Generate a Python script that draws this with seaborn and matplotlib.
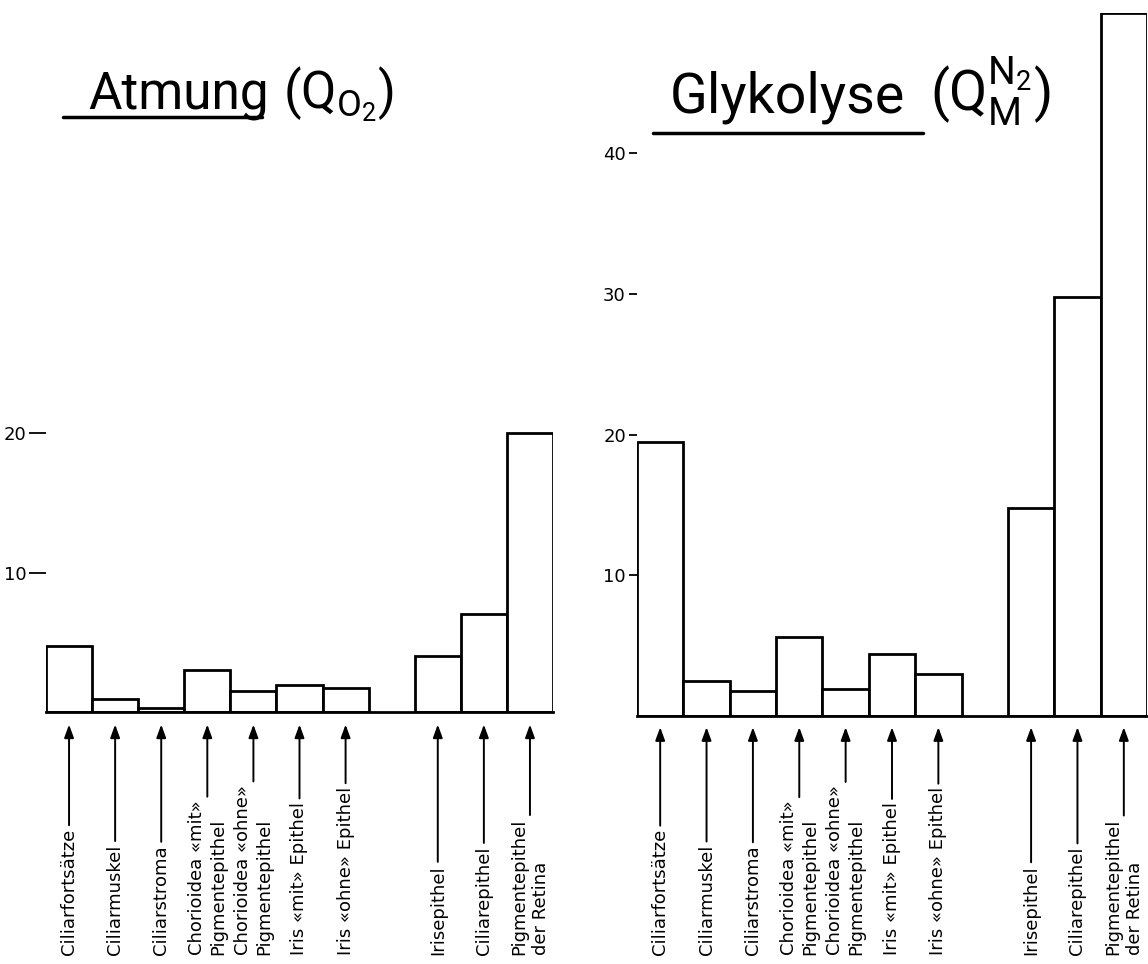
import matplotlib
matplotlib.use("Agg")
import matplotlib.pyplot as plt
import seaborn as sns
import pandas as pd
from matplotlib.lines import Line2D

sns.set_theme(style="white")
plt.rcParams['font.family'] = ['DejaVu Sans']
plt.rcParams['mathtext.fontset'] = 'custom'
plt.rcParams['mathtext.rm'] = 'Roboto'
plt.rcParams['mathtext.it'] = 'Roboto:italic'
plt.rcParams['mathtext.bf'] = 'Roboto:bold'

# ---- data ----
group1 = ["Ciliarfortsätze", "Ciliarmuskel", "Ciliarstroma",
          "Chorioidea «mit»\nPigmentepithel", "Chorioidea «ohne»\nPigmentepithel",
          "Iris «mit» Epithel", "Iris «ohne» Epithel"]
group2 = ["Irisepithel", "Ciliarepithel", "Pigmentepithel\nder Retina"]
categories = group1 + group2
atmung = [4.7, 0.9, 0.3, 3.0, 1.5, 1.9, 1.7, 4.0, 7.0, 20.0]
glykolyse = [19.5, 2.5, 1.8, 5.6, 1.9, 4.4, 3.0, 14.8, 29.8, 50.0]
atmung_ticks = [10, 20]
glyk_ticks = [10, 20, 30, 40]

GAP = "_gap"
order = group1 + [GAP] + group2

W, H = 1148, 964
fig = plt.figure(figsize=(W / 100, H / 100), dpi=100)
fig.patch.set_facecolor("white")

title_font = ['Roboto', 'DejaVu Sans']


def panel(rect, values, ticks, ticklen, tip_frac, text_frac):
    ax = fig.add_axes(rect)
    df = pd.DataFrame({"label": categories, "value": values})
    sns.barplot(data=df, x="label", y="value", order=order, ax=ax,
                color="white", edgecolor="black", linewidth=2, width=1,
                saturation=1, errorbar=None)
    ax.set_xlim(-0.5, 10.5)
    ax.set_ylim(0, 50)
    ax.set_xticks([])
    ax.set_xlabel("")
    ax.set_ylabel("")
    ax.set_facecolor("none")
    for s in ["left", "top", "right"]:
        ax.spines[s].set_visible(False)
    ax.spines["bottom"].set_color("black")
    ax.spines["bottom"].set_linewidth(2)
    ax.set_yticks(ticks)
    ax.set_yticklabels([str(t) for t in ticks])
    ax.tick_params(axis="y", left=True, direction="out", length=ticklen,
                   width=1.3, color="black", labelsize=13, pad=2,
                   labelcolor="black")
    for lab in categories:
        i = order.index(lab)
        ax.annotate(lab, xy=(i, tip_frac), xycoords=("data", "axes fraction"),
                    xytext=(i, text_frac), textcoords=("data", "axes fraction"),
                    rotation=90, ha="center", va="bottom", multialignment="left",
                    fontsize=13, color="black", linespacing=1.25,
                    annotation_clip=False,
                    arrowprops=dict(arrowstyle="-|>,head_length=0.6,head_width=0.22",
                                    color="black", lw=1.4, shrinkA=0, shrinkB=0))
    return ax


ax1 = panel([46 / W, 1 - 712 / H, 507 / W, 697.5 / H], atmung, atmung_ticks,
            12, -0.018, -0.348)
ax2 = panel([637 / W, 1 - 716 / H, 510 / W, 703.5 / H], glykolyse, glyk_ticks,
            6, -0.016, -0.340)

# ---- titles ----
fig.text(88 / W, 1 - 108 / H, "Atmung", fontsize=37, family=title_font,
         va="baseline", ha="left", color="black")
fig.text(283 / W, 1 - 108 / H, r"(Q$_{\mathrm{O}_{2}}$)", fontsize=37,
         family=title_font, va="baseline", ha="left", color="black")
fig.add_artist(Line2D([63 / W, 262 / W], [1 - 117 / H, 1 - 117 / H],
                      color="black", lw=2.5, transform=fig.transFigure))

fig.text(670 / W, 1 - 112 / H, "Glykolyse", fontsize=40, family=title_font,
         va="baseline", ha="left", color="black")
fig.text(930 / W, 1 - 112 / H, r"(Q$_{\mathrm{M}}^{\mathrm{N}_{2}}$)", fontsize=40,
         family=title_font, va="baseline", ha="left", color="black")
fig.add_artist(Line2D([653 / W, 923 / W], [1 - 133 / H, 1 - 133 / H],
                      color="black", lw=2.5, transform=fig.transFigure))

fig.savefig("out.png", dpi=100, facecolor="white")
